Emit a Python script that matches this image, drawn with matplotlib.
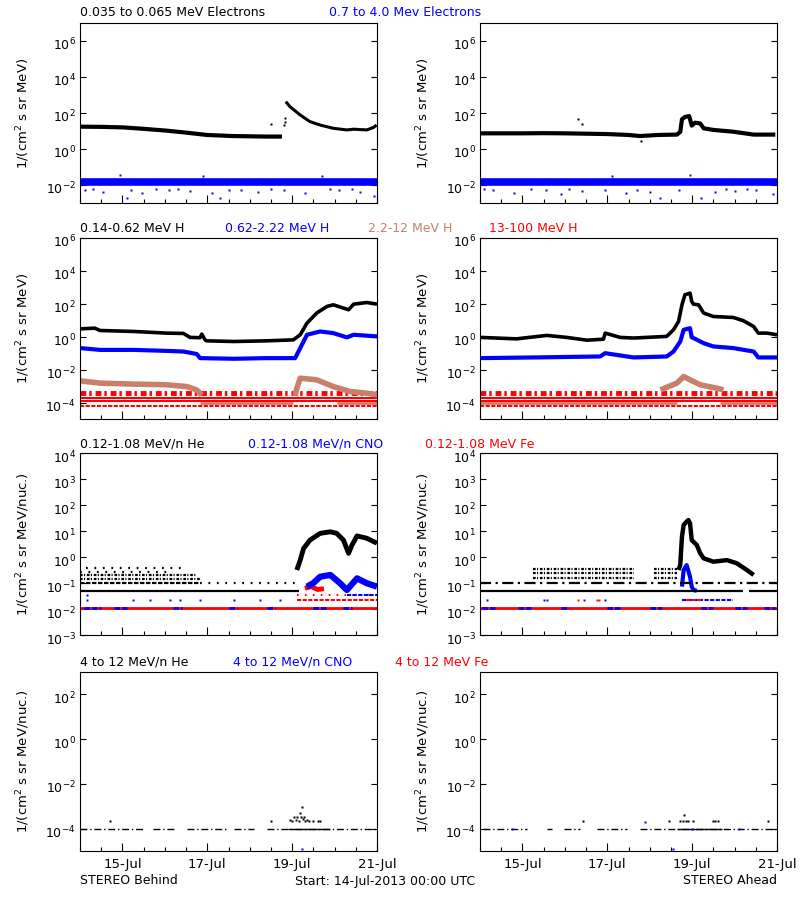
import numpy as np
import matplotlib
matplotlib.use('Agg')
import matplotlib.pyplot as plt
import matplotlib.transforms as mtransforms
from matplotlib.ticker import LogFormatterMathtext, NullLocator, MultipleLocator, FixedLocator

plt.rcParams['font.family'] = 'DejaVu Sans'

BLUE = '#0000ff'
TAN = '#c8806a'
RED = '#ff0000'

# time axis: days since 14-Jul-2013 00:00, values are log10 of flux

# ---- electrons, STEREO Behind
beh_e_t = [0.0, 0.5, 1.02, 1.5, 2.04, 2.5, 2.99, 3.6, 4.4, 4.76]
beh_e_v = [1.24, 1.23, 1.20, 1.12, 1.02, 0.91, 0.78, 0.72, 0.69, 0.69]
beh_e2_t = [4.85, 4.95, 5.19, 5.42, 5.66, 5.97, 6.29, 6.45, 6.76, 6.92, 6.99]
beh_e2_v = [2.63, 2.35, 1.89, 1.52, 1.33, 1.15, 1.06, 1.10, 1.06, 1.20, 1.33]
beh_e_out_t = [4.50, 4.80, 4.82, 4.83]
beh_e_out_v = [1.39, 1.33, 1.52, 1.70]
# ---- electrons, STEREO Ahead
ahd_e_t = [0.0, 0.5, 1.0, 1.5, 2.0, 2.5, 3.0, 3.5, 3.77, 4.2, 4.64, 4.72, 4.76,
           4.83, 4.93, 4.99, 5.07, 5.19, 5.27, 5.50, 5.97, 6.45, 6.96]
ahd_e_v = [0.87, 0.87, 0.87, 0.88, 0.87, 0.85, 0.83, 0.78, 0.72, 0.78, 0.80, 0.95, 1.65,
           1.78, 1.83, 1.30, 1.46, 1.42, 1.15, 1.06, 0.96, 0.80, 0.80]
ahd_e_out_t = [2.30, 2.40, 3.80]
ahd_e_out_v = [1.65, 1.40, 0.45]
# high energy electrons (both spacecraft, flat background)
e_hi_t = [0.0, 7.0]
e_hi_v = [-1.81, -1.81]
beh_ehi_out_t = [0.12, 0.55, 1.20, 1.45, 2.10, 2.60, 3.10, 3.50, 4.20, 4.80, 5.30, 6.10, 6.60, 6.92,
                 0.95, 2.90, 5.70, 0.30, 1.80, 2.30, 3.80, 4.50, 5.90, 6.40, 1.10, 3.30]
beh_ehi_out_v = [-2.30, -2.40, -2.25, -2.45, -2.30, -2.35, -2.45, -2.28, -2.40, -2.30, -2.42, -2.30, -2.38, -2.60,
                 -1.45, -1.50, -1.48, -2.20, -2.22, -2.20, -2.25, -2.20, -2.22, -2.20, -2.70, -2.72]
ahd_ehi_out_t = [0.30, 0.80, 1.55, 1.90, 2.40, 2.95, 3.45, 4.00, 4.25, 4.70, 5.20, 5.55, 6.00, 6.50, 6.90,
                 4.95, 3.10, 0.10, 1.20, 2.10, 3.70, 5.80, 6.30]
ahd_ehi_out_v = [-2.30, -2.42, -2.28, -2.48, -2.35, -2.30, -2.45, -2.38, -2.70, -2.30, -2.72, -2.40, -2.35, -2.30, -2.50,
                 -1.42, -1.48, -2.20, -2.22, -2.20, -2.25, -2.22, -2.20]

# ---- protons, STEREO Behind
beh_h1_t = [0.0, 0.35, 0.47, 1.26, 2.04, 2.44, 2.59, 2.83, 2.87, 2.95, 2.99, 3.62, 4.40, 5.03,
            5.19, 5.35, 5.58, 5.82, 5.97, 6.21, 6.33, 6.45, 6.76, 7.0]
beh_h1_v = [0.48, 0.52, 0.38, 0.32, 0.22, 0.20, -0.04, -0.06, 0.16, -0.20, -0.25, -0.29, -0.25, -0.19,
            0.12, 0.83, 1.44, 1.84, 1.94, 1.74, 1.64, 1.98, 2.08, 1.98]
beh_h2_t = [0.0, 0.47, 1.26, 2.04, 2.44, 2.75, 2.83, 3.62, 4.40, 5.07, 5.11, 5.19, 5.35, 5.66,
            5.97, 6.29, 6.45, 7.0]
beh_h2_v = [-0.69, -0.80, -0.80, -0.86, -0.90, -1.05, -1.30, -1.34, -1.30, -1.30, -1.10, -0.69, 0.12,
            0.32, 0.22, -0.04, 0.12, 0.02]
beh_h3a_t = [0.0, 0.47, 1.26, 2.04, 2.52, 2.75, 2.87]
beh_h3a_v = [-2.68, -2.82, -2.88, -2.92, -3.03, -3.23, -3.55]
beh_h3b_t = [5.07, 5.11, 5.19, 5.58, 5.97, 6.37, 6.76, 7.0]
beh_h3b_v = [-3.60, -3.13, -2.52, -2.62, -3.03, -3.33, -3.43, -3.53]
beh_h3_floor = [(2.83, 5.03), (6.05, 7.0)]
# ---- protons, STEREO Ahead
ahd_h1_t = [0.0, 0.86, 1.57, 2.04, 2.52, 2.91, 2.95, 3.30, 3.62, 4.40, 4.56, 4.68, 4.76, 4.83,
            4.95, 4.99, 5.03, 5.15, 5.27, 5.50, 5.97, 6.21, 6.45, 6.56, 6.76, 7.0]
ahd_h1_v = [-0.04, -0.13, 0.08, -0.04, -0.21, -0.15, 0.22, -0.04, -0.08, 0.02, 0.42, 0.93, 1.94, 2.55,
            2.65, 2.15, 1.98, 1.94, 1.44, 1.23, 1.17, 0.97, 0.62, 0.22, 0.22, 0.12]
ahd_h2_t = [0.0, 1.26, 2.83, 2.95, 3.62, 4.40, 4.56, 4.72, 4.80, 4.95, 4.99, 5.03, 5.27, 5.50,
            5.97, 6.45, 6.56, 7.0]
ahd_h2_v = [-1.30, -1.26, -1.20, -1.00, -1.26, -1.20, -0.90, -0.29, 0.42, 0.52, -0.04, -0.08, -0.39,
            -0.59, -0.69, -0.90, -1.26, -1.26]
ahd_h3_t = [4.25, 4.64, 4.80, 4.95, 5.19, 5.58, 5.74]
ahd_h3_v = [-3.23, -2.82, -2.42, -2.62, -2.92, -3.13, -3.23]
ahd_h3_floor = [(0.0, 4.64), (5.66, 7.0)]
# 13-100 MeV H background levels
h4_noise = -3.42
h4_levels = [-3.74, -3.90]
h4_sparse = -4.18
h3_floor = -4.04

# ---- suprathermal ions, STEREO Behind
beh_he_t = [5.11, 5.19, 5.27, 5.42, 5.66, 5.90, 6.05, 6.21, 6.33, 6.41, 6.53, 6.76, 7.0]
beh_he_v = [-0.50, -0.12, 0.33, 0.65, 0.91, 0.97, 0.91, 0.65, 0.14, 0.46, 0.81, 0.72, 0.53]
beh_he_base = [(0.0, 5.15)]
beh_he_q1 = [(0.0, 2.83)]
beh_he_q1_sparse = [(2.83, 5.11)]
beh_he_q2 = [(0.0, 2.83)]
beh_he_q3 = [(0.0, 2.75)]
beh_he_q4 = [(0.0, 2.2)]
beh_he_q5 = [(0.15, 2.45)]
beh_cno_t = [5.35, 5.50, 5.66, 5.90, 6.13, 6.29, 6.53, 6.76, 7.0]
beh_cno_v = [-1.14, -1.00, -0.76, -0.69, -1.01, -1.27, -0.82, -1.01, -1.14]
beh_cno_low = [(0.1, 0.5), (0.8, 1.1), (2.2, 2.4), (3.5, 3.7), (4.4, 4.6), (5.5, 5.8), (6.2, 6.4)]
beh_cno_dots = [0.17, 1.26, 1.65, 2.12, 2.36, 2.83, 3.62, 4.25, 4.72]
beh_cno_q3 = [(6.29, 7.0)]
beh_fe_q2 = [(5.11, 7.0)]
beh_fe_q3 = [(5.11, 7.0)]
beh_fe_t = [5.30, 5.45, 5.60, 5.75]
beh_fe_v = [-1.20, -1.14, -1.25, -1.22]
# ---- suprathermal ions, STEREO Ahead
ahd_he_t = [4.68, 4.72, 4.76, 4.80, 4.87, 4.91, 4.95, 4.99, 5.11, 5.19, 5.27, 5.50, 5.82, 6.05, 6.29, 6.45]
ahd_he_v = [-0.50, -0.30, 0.78, 1.23, 1.36, 1.42, 1.30, 0.65, 0.46, 0.14, -0.05, -0.18, -0.12, -0.24, -0.50, -0.69]
ahd_he_base = [(0.0, 6.2), (6.33, 7.0)]
ahd_he_q1 = [(0.0, 7.0)]
ahd_he_cloud = [(1.26, 3.62), (4.09, 4.64)]
ahd_he_cloud_lv = [-0.80, -0.62, -0.45]
ahd_cno_t = [4.76, 4.80, 4.87, 4.95, 4.99, 5.03, 5.11]
ahd_cno_v = [-1.14, -0.50, -0.31, -0.76, -1.14, -1.27, -1.30]
ahd_cno_low = [(0.05, 0.4), (0.9, 1.2), (1.9, 2.1), (3.0, 3.3), (4.0, 4.3), (5.2, 5.5), (6.0, 6.3), (6.7, 6.95)]
ahd_cno_q2 = [(4.76, 5.97)]
ahd_cno_dots = [0.17, 1.50, 1.57, 2.44, 2.95]
ahd_fe_dots = [2.30, 2.75, 2.80]
ahd_fe_q2 = [(4.85, 5.2)]

# ---- 4-12 MeV/n ions
beh_hi_base = [(0.0, 1.5), (1.73, 2.23), (2.52, 3.46), (3.62, 4.09), (4.40, 7.0)]
beh_hi_solid = [(4.91, 5.90)]
beh_hi_t = [0.70, 4.50, 4.95, 5.00, 5.05, 5.10, 5.15, 5.20, 5.25, 5.30, 5.35, 5.40, 5.50, 5.60, 5.65,
            5.23, 5.12, 5.18, 5.28]
beh_hi_v = [-3.68, -3.68, -3.60, -3.68, -3.50, -3.60, -3.68, -3.46, -3.55, -3.68, -3.60, -3.68, -3.68, -3.68,
            -3.68, -3.04, -3.46, -3.31, -3.46]
beh_hi_cno_t = [5.23]
beh_hi_cno_v = [-4.90]
ahd_hi_base = [(0.08, 1.10), (1.57, 1.69), (1.97, 2.36), (2.75, 3.46), (3.77, 7.0)]
ahd_hi_solid = [(4.64, 5.70)]
ahd_hi_t = [2.42, 4.45, 4.72, 4.78, 4.80, 4.85, 4.90, 5.03, 5.50, 5.55, 5.60, 6.78]
ahd_hi_v = [-3.68, -3.68, -3.68, -3.68, -3.40, -3.68, -3.68, -3.68, -3.68, -3.68, -3.68, -3.68]
ahd_hi_cno_t = [4.55, 3.90, 0.75, 5.00, 6.10]
ahd_hi_cno_v = [-4.90, -3.70, -4.00, -4.00, -4.00]


fig = plt.figure(figsize=(8, 9), dpi=100)
shift_down = mtransforms.ScaledTranslation(0, -3 / 100, fig.dpi_scale_trans)


def make_axes(left, top, right, bottom):
    return fig.add_axes([left / 800, 1 - bottom / 900, (right - left) / 800, (bottom - top) / 900])


def style(ax, ylo, yhi, yticks, label, xlabels=False):
    ax.set_yscale('log')
    ax.set_xlim(0, 7)
    ax.set_ylim(10.0 ** ylo, 10.0 ** yhi)
    ax.yaxis.set_major_locator(FixedLocator([10.0 ** k for k in yticks]))
    ax.yaxis.set_major_formatter(LogFormatterMathtext())
    ax.yaxis.set_minor_locator(NullLocator())
    ax.xaxis.set_major_locator(FixedLocator([1, 3, 5, 7]))
    ax.xaxis.set_minor_locator(MultipleLocator(0.5))
    ax.tick_params(axis='y', which='major', direction='in', left=True, right=True,
                   length=4, width=0.8, labelsize=9, pad=3)
    ax.tick_params(axis='x', which='major', direction='in', top=False, length=6, width=0.8,
                   labelsize=9.5, pad=5)
    ax.tick_params(axis='x', which='minor', direction='in', top=False, length=3, width=0.8)
    if xlabels:
        ax.set_xticklabels(['15-Jul', '17-Jul', '19-Jul', '21-Jul'])
    else:
        ax.set_xticklabels([])
    for lab in ax.get_yticklabels():
        lab.set_transform(lab.get_transform() + shift_down)
    for s in ax.spines.values():
        s.set_linewidth(0.8)
    ax.set_ylabel(label, fontsize=9.5)
    ax.yaxis.set_label_coords(-0.16, 0.5)


def curve(ax, t, v, color, lw):
    ax.plot(t, 10.0 ** np.array(v), color=color, lw=lw, solid_capstyle='butt', solid_joinstyle='round')


def dots(ax, t, v, color, ms=2.0):
    ax.plot(t, 10.0 ** np.array(v), 's', color=color, ms=ms, mec='none')


def spans(ax, segs, lev, color, lw=1.5, ls='-'):
    for a, b in segs:
        ax.plot([a, b], [10.0 ** lev, 10.0 ** lev], color=color, lw=lw, ls=ls, solid_capstyle='butt')


LAB1 = '1/(cm$^2$ s sr MeV)'
LAB2 = '1/(cm$^2$ s sr MeV/nuc.)'
DENSE = (0, (2, 0.7))
SPARSE = (0, (0.8, 3))
SPECK = (0, (1.2, 0.6, 0.5, 0.8))
DASHDOT = (0, (5, 2, 1, 2))

rows = [(23, 203), (238, 419), (453, 635), (672, 851)]
cols = [(80, 377), (480, 777)]
axs = [[make_axes(c[0], r[0], c[1], r[1]) for c in cols] for r in rows]

# row 1: electrons
for ax in axs[0]:
    style(ax, -3, 7, (-2, 0, 2, 4, 6), LAB1)
    curve(ax, e_hi_t, e_hi_v, BLUE, 5.5)
dots(axs[0][0], beh_ehi_out_t, beh_ehi_out_v, BLUE)
dots(axs[0][1], ahd_ehi_out_t, ahd_ehi_out_v, BLUE)
curve(axs[0][0], beh_e_t, beh_e_v, 'black', 3)
curve(axs[0][0], beh_e2_t, beh_e2_v, 'black', 2.2)
dots(axs[0][0], beh_e_out_t, beh_e_out_v, 'black')
curve(axs[0][1], ahd_e_t, ahd_e_v, 'black', 3)
dots(axs[0][1], ahd_e_out_t, ahd_e_out_v, 'black')

# row 2: protons
for ax in axs[1]:
    style(ax, -5, 6, (-4, -2, 0, 2, 4, 6), LAB1)
    spans(ax, [(0.0, 7.0)], h4_noise, RED, lw=3.5, ls=SPECK)
    for lev in h4_levels:
        spans(ax, [(0.0, 7.0)], lev, RED, lw=1.5)
    spans(ax, [(0.0, 7.0)], h4_sparse, RED, lw=1.5, ls=DENSE)
spans(axs[1][0], beh_h3_floor, h3_floor, TAN, lw=2)
spans(axs[1][1], ahd_h3_floor, h3_floor, TAN, lw=2)
curve(axs[1][0], beh_h3a_t, beh_h3a_v, TAN, 4)
curve(axs[1][0], beh_h3b_t, beh_h3b_v, TAN, 4)
curve(axs[1][0], beh_h2_t, beh_h2_v, BLUE, 3)
curve(axs[1][0], beh_h1_t, beh_h1_v, 'black', 2.6)
curve(axs[1][1], ahd_h3_t, ahd_h3_v, TAN, 4)
curve(axs[1][1], ahd_h2_t, ahd_h2_v, BLUE, 3)
curve(axs[1][1], ahd_h1_t, ahd_h1_v, 'black', 2.6)

# row 3: suprathermal ions
for ax in axs[2]:
    style(ax, -3, 4, range(-3, 5), LAB2)
    spans(ax, [(0.0, 7.0)], -1.97, RED, lw=2)
ax = axs[2][0]
spans(ax, beh_cno_low, -1.97, BLUE, lw=2, ls=DENSE)
dots(ax, beh_cno_dots, [-1.65] * len(beh_cno_dots), BLUE)
dots(ax, [0.17], [-1.46], BLUE)
spans(ax, beh_fe_q2, -1.65, RED, lw=1.5, ls=DENSE)
spans(ax, beh_fe_q3, -1.46, RED, lw=1.5, ls=SPARSE)
spans(ax, beh_cno_q3, -1.46, BLUE, lw=1.5, ls=DENSE)
curve(ax, beh_fe_t, beh_fe_v, RED, 3.5)
curve(ax, beh_cno_t, beh_cno_v, BLUE, 4.5)
spans(ax, beh_he_base, -1.29, 'black', lw=1.6)
spans(ax, beh_he_q1, -1.01, 'black', lw=1.6, ls=DENSE)
spans(ax, beh_he_q1_sparse, -1.01, 'black', lw=1.6, ls=SPARSE)
spans(ax, beh_he_q2, -0.86, 'black', lw=1.6, ls=SPECK)
spans(ax, beh_he_q3, -0.69, 'black', lw=1.6, ls=SPECK)
spans(ax, beh_he_q4, -0.56, 'black', lw=1.6, ls=SPARSE)
spans(ax, beh_he_q5, -0.44, 'black', lw=1.6, ls=SPARSE)
curve(ax, beh_he_t, beh_he_v, 'black', 3.5)

ax = axs[2][1]
spans(ax, ahd_cno_low, -1.97, BLUE, lw=2, ls=DENSE)
spans(ax, ahd_cno_q2, -1.65, BLUE, lw=1.5, ls=DENSE)
spans(ax, ahd_fe_q2, -1.65, RED, lw=1.5, ls=DENSE)
dots(ax, ahd_cno_dots, [-1.65] * len(ahd_cno_dots), BLUE)
dots(ax, ahd_fe_dots, [-1.65] * len(ahd_fe_dots), RED)
curve(ax, ahd_cno_t, ahd_cno_v, BLUE, 3)
spans(ax, ahd_he_base, -1.29, 'black', lw=1.6)
spans(ax, ahd_he_q1, -1.01, 'black', lw=1.6, ls=DASHDOT)
for lev in ahd_he_cloud_lv:
    spans(ax, ahd_he_cloud, lev, 'black', lw=1.6, ls=SPECK)
curve(ax, ahd_he_t, ahd_he_v, 'black', 3.2)

# row 4: 4-12 MeV/n ions
for ax in axs[3]:
    style(ax, -5, 3, (-4, -2, 0, 2), LAB2, xlabels=True)
spans(axs[3][0], beh_hi_base, -4.0, 'black', lw=1, ls=DASHDOT)
spans(axs[3][0], beh_hi_solid, -4.0, 'black', lw=1)
dots(axs[3][0], beh_hi_t, beh_hi_v, 'black')
dots(axs[3][0], beh_hi_cno_t, beh_hi_cno_v, BLUE)
spans(axs[3][1], ahd_hi_base, -4.0, 'black', lw=1, ls=DASHDOT)
spans(axs[3][1], ahd_hi_solid, -4.0, 'black', lw=1)
dots(axs[3][1], ahd_hi_t, ahd_hi_v, 'black')
dots(axs[3][1], ahd_hi_cno_t, ahd_hi_cno_v, BLUE)


def label(x, y, s, color='black', ha='left'):
    fig.text(x / 800, 1 - y / 900, s, color=color, ha=ha, va='center', fontsize=9)


label(80, 13, '0.035 to 0.065 MeV Electrons')
label(329, 13, '0.7 to 4.0 Mev Electrons', BLUE)
label(80, 229, '0.14-0.62 MeV H')
label(225, 229, '0.62-2.22 MeV H', BLUE)
label(368, 229, '2.2-12 MeV H', TAN)
label(489, 229, '13-100 MeV H', RED)
label(80, 444, '0.12-1.08 MeV/n He')
label(248, 444, '0.12-1.08 MeV/n CNO', BLUE)
label(425, 444, '0.12-1.08 MeV Fe', RED)
label(80, 662, '4 to 12 MeV/n He')
label(233, 662, '4 to 12 MeV/n CNO', BLUE)
label(395, 662, '4 to 12 MeV Fe', RED)
label(80, 881, 'STEREO Behind')
label(295, 881, 'Start: 14-Jul-2013 00:00 UTC')
label(777, 881, 'STEREO Ahead', ha='right')

fig.savefig('out.png', dpi=100)
